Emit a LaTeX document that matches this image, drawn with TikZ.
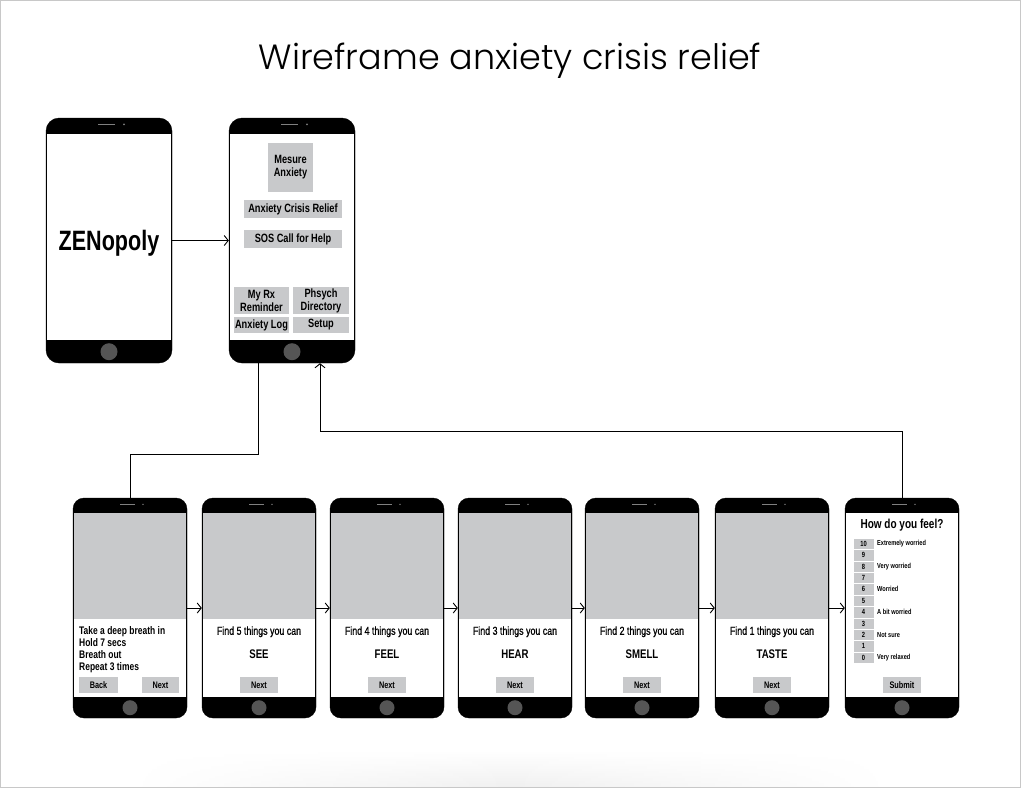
\documentclass[tikz,border=0pt]{standalone}
\usepackage{fontspec}
\newfontfamily\condf{Liberation Sans}[FakeStretch=0.77]
\newfontfamily\condm{Liberation Sans}[FakeStretch=0.77,FakeBold=0.7]
\newfontfamily\titlef{Poppins Light}
\usetikzlibrary{calc,arrows.meta,fadings}
\tikzfading[name=sidefade, left color=transparent!100, right color=transparent!100, middle color=transparent!0]
\definecolor{boxgray}{RGB}{200,201,203}
\definecolor{homegray}{RGB}{85,85,85}
\definecolor{framegray}{RGB}{200,200,200}
\begin{document}
\begin{tikzpicture}[x=1pt,y=-1pt,
  bigphone/.style={fill=black,draw=black,rounded corners=13pt,minimum width=126pt,minimum height=245pt,inner sep=0pt},
  smallphone/.style={fill=black,draw=black,rounded corners=11pt,minimum width=114pt,minimum height=220pt,inner sep=0pt},
  btn/.style={fill=boxgray,inner sep=0pt,font=\condf\bfseries\fontsize{12}{13}\selectfont,align=center,text=black},
  sbtn/.style={fill=boxgray,inner sep=0pt,minimum width=38pt,minimum height=16pt,font=\condf\bfseries\fontsize{9.5}{10}\selectfont},
  findtext/.style={inner sep=0pt,font=\condm\fontsize{11.5}{12}\selectfont},
  bigword/.style={inner sep=0pt,font=\condf\bfseries\fontsize{12.5}{13}\selectfont},
  rowbox/.style={fill=boxgray,draw=white,line width=0.4pt,minimum width=21pt,minimum height=11.4pt,inner sep=0pt,font=\condf\bfseries\fontsize{7.5}{8}\selectfont},
  rowlabel/.style={anchor=west,inner sep=0pt,font=\condf\bfseries\fontsize{7.3}{8}\selectfont},
  conn/.style={line width=0.9pt,draw=black},
  arr/.style={conn,-{Straight Barb[length=4pt,width=10pt]}}
]
\useasboundingbox (0,0) rectangle (1021,788);
\shade[top color=white,bottom color=black!6,path fading=sidefade] (130,750) rectangle (890,787);
\draw[framegray,line width=1pt] (0.5,0.5) rectangle (1020.5,787.5);

% title
\node[inner sep=0pt,anchor=base,font=\titlef\fontsize{35}{38}\selectfont] (title) at (510,69) {Wireframe anxiety crisis relief};

% top phones
\foreach \n/\x in {p1/109,p2/292}{
  \node[bigphone] (\n) at (\x,240.5) {};
  \fill[white] ($(\n.north west)+(1.5,16)$) rectangle ($(\n.south east)+(-1.5,-23)$);
  \fill[homegray] ($(\n.south)+(0,-11.5)$) circle (8.5pt);
  \draw[gray,line width=1.2pt] ($(\n.north)+(-11,6.5)$) -- ++(17,0);
  \fill[gray] ($(\n.north)+(15,6.5)$) circle (1pt);
}
\node[inner sep=0pt,font=\condf\bfseries\fontsize{28}{30}\selectfont] (zen) at (109,243) {ZENopoly};

% menu buttons
\node[btn,minimum width=45pt,minimum height=49pt] (m1) at (290.5,167.5) {Mesure\\Anxiety};
\node[btn,minimum width=98pt,minimum height=18pt] (m2) at (293,209) {Anxiety Crisis Relief};
\node[btn,minimum width=98pt,minimum height=18pt] (m3) at (293,239) {SOS Call for Help};
\node[btn,minimum width=55pt,minimum height=27pt] (m4) at (261.5,300.5) {My Rx\\Reminder};
\node[btn,minimum width=56pt,minimum height=27pt] (m5) at (321,300.5) {Phsych\\Directory};
\node[btn,minimum width=55pt,minimum height=16pt] (m6) at (261.5,325) {Anxiety Log};
\node[btn,minimum width=56pt,minimum height=16pt] (m7) at (321,325) {Setup};

% bottom phones
\foreach \i/\x in {1/130,2/259,3/387,4/515,5/642,6/772,7/902}{
  \node[smallphone] (b\i) at (\x,608) {};
  \fill[white] ($(b\i.north west)+(1.5,15)$) rectangle ($(b\i.south east)+(-1.5,-21)$);
  \fill[homegray] ($(b\i.south)+(0,-10.5)$) circle (7.5pt);
  \draw[gray,line width=1pt] ($(b\i.north)+(-10,6.5)$) -- ++(15,0);
  \fill[gray] ($(b\i.north)+(13,6.5)$) circle (0.8pt);
}
\foreach \i in {1,...,6}{
  \fill[boxgray] ($(b\i.north west)+(1.5,15)$) rectangle ($(b\i.north east)+(-1.5,121)$);
}

% phone 1 content
\node[anchor=west,align=left,inner sep=0pt,font=\condf\bfseries\fontsize{11}{12}\selectfont] (t1) at (79,650) {Take a deep breath in\\Hold 7 secs\\Breath out\\Repeat 3 times};
\node[sbtn,minimum width=39pt] (back1) at (98.5,685) {Back};
\node[sbtn,minimum width=37pt] (next1) at (160.5,685) {Next};

% phones 2-6 content
\foreach \i/\n/\w in {2/5/SEE,3/4/FEEL,4/3/HEAR,5/2/SMELL,6/1/TASTE}{
  \node[findtext] (f\i) at ($(b\i.north)+(0,134)$) {Find \n\ things you can};
  \node[bigword] (w\i) at ($(b\i.north)+(0,156)$) {\w};
  \node[sbtn] (n\i) at ($(b\i.north)+(0,187)$) {Next};
}

% phone 7 content
\node[inner sep=0pt,font=\condf\bfseries\fontsize{13}{14}\selectfont] (q7) at (902,525) {How do you feel?};
\foreach \k/\v/\l in {0/10/Extremely worried,1/9/,2/8/Very worried,3/7/,4/6/Worried,5/5/,6/4/A bit worried,7/3/,8/2/Not sure,9/1/,10/0/Very relaxed}{
  \node[rowbox] (r\v) at (863.5,543.7+\k*11.4) {\v};
  \node[rowlabel] (l\v) at (877,543.7+\k*11.4) {\l};
}
\node[sbtn] (sub) at (902,685) {Submit};

% connectors
\draw[arr] (p1.east) -- (p2.west);
\foreach \a/\b in {1/2,2/3,3/4,4/5,5/6,6/7}{
  \draw[arr] (b\a.east) -- (b\b.west);
}
\draw[conn] ([xshift=-34pt]p2.south) -- ++(0,91) -| (b1.north);
\draw[arr] (b7.north) -- ++(0,-66) -| ([xshift=28pt]p2.south);
\end{tikzpicture}
\end{document}
